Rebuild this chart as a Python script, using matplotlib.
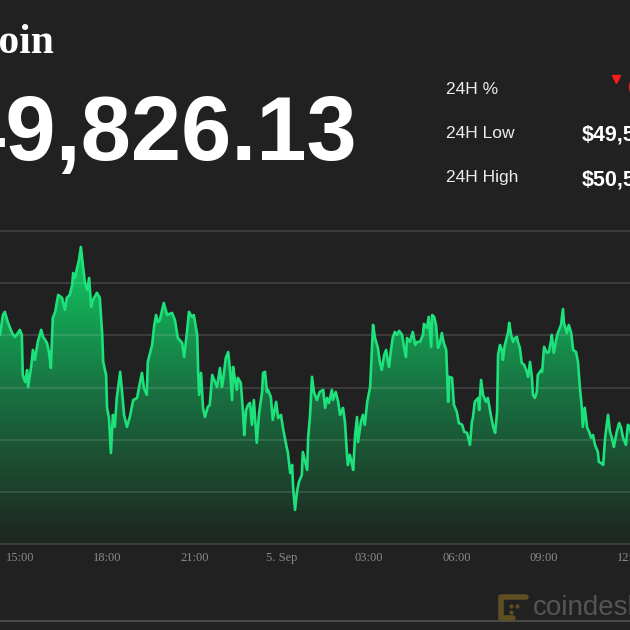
import matplotlib
matplotlib.use("Agg")
import matplotlib.pyplot as plt
import numpy as np
from matplotlib.colors import LinearSegmentedColormap
from matplotlib.lines import Line2D

# minutes after 4 Sep 14:00, BTC price in USD
MINUTES = [
    18, 24, 28, 34, 43, 49, 55, 59, 63, 65, 70, 74, 76, 82, 86, 90, 96, 103, 107, 115,
    119, 123, 127, 132, 138, 146, 152, 156, 162, 167, 169, 173, 177, 181, 185, 189, 193, 198, 202, 206,
    210, 218, 224, 229, 231, 237, 239, 243, 247, 251, 255, 259, 266, 270, 274, 280, 286, 293, 301, 305,
    311, 315, 321, 323, 332, 336, 340, 344, 348, 356, 363, 373, 379, 385, 394, 398, 404, 408, 414, 418,
    425, 427, 429, 433, 437, 441, 447, 451, 456, 462, 466, 472, 476, 478, 484, 489, 493, 497, 499, 503,
    507, 509, 515, 520, 522, 526, 530, 534, 538, 542, 548, 553, 559, 561, 565, 569, 571, 577, 581, 588,
    592, 598, 602, 610, 612, 617, 621, 623, 627, 631, 635, 641, 643, 648, 652, 654, 658, 662, 666, 672,
    678, 685, 689, 693, 697, 703, 705, 711, 716, 720, 726, 730, 734, 736, 740, 745, 747, 751, 755, 757,
    763, 767, 771, 776, 782, 786, 788, 792, 798, 802, 806, 811, 815, 819, 821, 825, 829, 833, 837, 842,
    848, 852, 856, 858, 864, 870, 875, 879, 885, 891, 893, 899, 903, 908, 910, 914, 918, 922, 926, 930,
    934, 939, 941, 943, 945, 951, 955, 961, 965, 972, 976, 982, 988, 992, 994, 998, 1005, 1007, 1011, 1015,
    1021, 1025, 1031, 1036, 1040, 1044, 1046, 1050, 1054, 1056, 1060, 1067, 1069, 1073, 1077, 1081, 1085, 1087, 1091, 1095,
    1100, 1106, 1108, 1112, 1116, 1118, 1122, 1126, 1128, 1135, 1137, 1141, 1147, 1151, 1155, 1157, 1161, 1168, 1172, 1176,
    1180, 1182, 1188, 1192, 1197, 1201, 1207, 1211, 1215, 1219, 1221, 1225, 1230, 1234, 1238, 1242, 1246, 1252, 1254, 1258,
    1263, 1267, 1273, 1277, 1281, 1285, 1291, 1296, 1300, 1304, 1310, 1314, 1318, 1320,
]
PRICES = [
    50202, 50278, 50290, 50251, 50209, 50194, 50209, 50221, 50202, 50048, 50021, 50067, 50002, 50075, 50144, 50106, 50175, 50221, 50194, 50171,
    50136, 50075, 50267, 50290, 50355, 50344, 50298, 50344, 50355, 50393, 50439, 50420, 50458, 50489, 50539, 50470, 50405, 50374, 50420, 50309,
    50336, 50363, 50344, 50202, 50098, 50048, 49922, 49883, 49749, 49895, 49849, 49960, 50060, 49983, 49895, 49849, 49887, 49952, 49960, 50002,
    50056, 49998, 49972, 50098, 50163, 50232, 50278, 50251, 50259, 50324, 50278, 50286, 50259, 50190, 50171, 50117, 50213, 50290, 50271, 50278,
    50202, 50060, 49972, 50056, 49922, 49887, 49926, 49933, 50048, 50021, 50002, 50075, 50002, 50021, 50113, 50136, 50060, 49952, 50079, 50029,
    49991, 50037, 50018, 49895, 49818, 49914, 49933, 49941, 49857, 49952, 49788, 49906, 49983, 50056, 50060, 49983, 49991, 49964, 49876, 49945,
    49883, 49895, 49845, 49768, 49753, 49672, 49703, 49615, 49531, 49600, 49638, 49665, 49753, 49715, 49684, 49807, 49895, 50041, 49983, 49952,
    49983, 49991, 49922, 49960, 49941, 49991, 49952, 49983, 49945, 49895, 49922, 49868, 49749, 49703, 49742, 49703, 49684, 49818, 49887, 49791,
    49868, 49895, 49857, 49945, 50002, 50163, 50240, 50190, 50152, 50098, 50067, 50125, 50144, 50094, 50079, 50144, 50194, 50213, 50202, 50217,
    50202, 50152, 50117, 50190, 50175, 50213, 50163, 50175, 50175, 50202, 50244, 50228, 50271, 50156, 50278, 50271, 50240, 50152, 50171, 50209,
    50171, 50144, 50048, 49945, 50041, 50037, 49933, 49906, 49864, 49857, 49830, 49826, 49780, 49868, 49883, 49945, 49960, 49914, 50029, 49972,
    49945, 49960, 49895, 49849, 49826, 49906, 50125, 50163, 50144, 50106, 50163, 50213, 50248, 50202, 50175, 50190, 50194, 50175, 50152, 50094,
    50087, 50056, 50041, 50098, 50037, 49972, 49960, 49983, 50048, 50067, 50060, 50156, 50133, 50136, 50175, 50202, 50133, 50202, 50221, 50240,
    50301, 50248, 50209, 50240, 50209, 50144, 50136, 50098, 49998, 49922, 49849, 49922, 49845, 49830, 49807, 49818, 49780, 49753, 49715, 49711,
    49703, 49807, 49895, 49830, 49807, 49772, 49830, 49864, 49845, 49807, 49780, 49857, 49849, 49826.13,
]
LAST_PRICE = 49826.13
TICK_MINUTES = [60, 240, 420, 600, 780, 960, 1140, 1320]
TICK_LABELS = ["15:00", "18:00", "21:00", "5. Sep", "03:00", "06:00", "09:00", "12:00"]
GRID_PRICES = [49400, 49600, 49800, 50000, 50200, 50400, 50600]
X_RANGE = (18, 1339)

BG = "#212121"
LINE = "#1de27b"
W = H = 630


def fx(x):
    return x / W


def fy(y):
    return 1 - y / H


fig = plt.figure(figsize=(6.3, 6.3), dpi=100, facecolor=BG)
ax = fig.add_axes([0, fy(544), 640 / W, 313 / H])
ax.set_facecolor(BG)

x = np.array(MINUTES, dtype=float)
y = np.array(PRICES, dtype=float)
low = GRID_PRICES[0]

# gradient area under the line
area = ax.fill_between(x, y, low, color="none", lw=0)
cmap = LinearSegmentedColormap.from_list("fade", ["#1e2520", "#196f40", "#10cc63"])
grad = np.linspace(0, 1, 256).reshape(-1, 1)
img = ax.imshow(grad, cmap=cmap, aspect="auto", origin="lower",
                extent=[x[0], x[-1], low, y.max()], zorder=1)
img.set_clip_path(area.get_paths()[0], transform=ax.transData)

for g in GRID_PRICES:
    ax.axhline(g, color="white", alpha=0.14, lw=1.2, clip_on=False, zorder=2)

ax.plot(x, y, color=LINE, lw=1.9, zorder=3, solid_joinstyle="round")

ax.set_xlim(*X_RANGE)
ax.set_ylim(GRID_PRICES[0], GRID_PRICES[-1])
ax.set_yticks([])
ax.set_xticks(TICK_MINUTES, TICK_LABELS)
ax.tick_params(axis="x", length=0, pad=6, labelsize=9, labelcolor="#8a8a8a")
for lbl in ax.get_xticklabels():
    lbl.set_fontfamily("Liberation Serif")
for s in ax.spines.values():
    s.set_visible(False)

# header
fig.text(fx(54), fy(53), "Bitcoin", ha="right", va="baseline", fontsize=30,
         fontweight="bold", family="Liberation Serif", color="white")
fig.text(fx(357), fy(160), f"${LAST_PRICE:,.2f}", ha="right", va="baseline",
         fontsize=65, fontweight="bold", family="Liberation Sans", color="white")

pct = (LAST_PRICE - PRICES[0]) / PRICES[0] * 100
for label, base in zip(["24H %", "24H Low", "24H High"], [94, 138, 182]):
    fig.text(fx(446), fy(base), label, ha="left", va="baseline", fontsize=12.5,
             family="Liberation Sans", color="#ececec")
fig.text(fx(582), fy(141), f"${min(PRICES):,.2f}", ha="left", va="baseline",
         fontsize=15.5, fontweight="bold", family="Liberation Sans", color="white")
fig.text(fx(582), fy(185), f"${max(PRICES):,.2f}", ha="left", va="baseline",
         fontsize=15.5, fontweight="bold", family="Liberation Sans", color="white")
fig.add_artist(Line2D([fx(616)], [fy(79)], marker="v", markersize=6, color="#ff1a1a",
                      lw=0, transform=fig.transFigure))
fig.text(fx(627), fy(94), f"{abs(pct):.2f}%", ha="left", va="baseline", fontsize=15,
         fontweight="bold", family="Liberation Sans", color="#ff1a1a")

# footer line and watermark
fig.add_artist(Line2D([0, 1], [fy(621), fy(621)], color="#4a4a4a", lw=1.5,
                      transform=fig.transFigure))
fig.add_artist(Line2D([fx(526), fx(501), fx(501), fx(513)],
                      [fy(597), fy(597), fy(618), fy(618)], color="#5e4f22", lw=4,
                      solid_capstyle="round", solid_joinstyle="round",
                      transform=fig.transFigure))
fig.add_artist(Line2D([fx(511), fx(511), fx(517)], [fy(606), fy(612), fy(606)],
                      marker="o", markersize=2, lw=0, color="#5e4f22",
                      transform=fig.transFigure))
fig.text(fx(533), fy(615), "coindesk", ha="left", va="baseline", fontsize=20,
         family="Liberation Sans", color="#555555")

fig.savefig("out.png", dpi=100, facecolor=BG)
